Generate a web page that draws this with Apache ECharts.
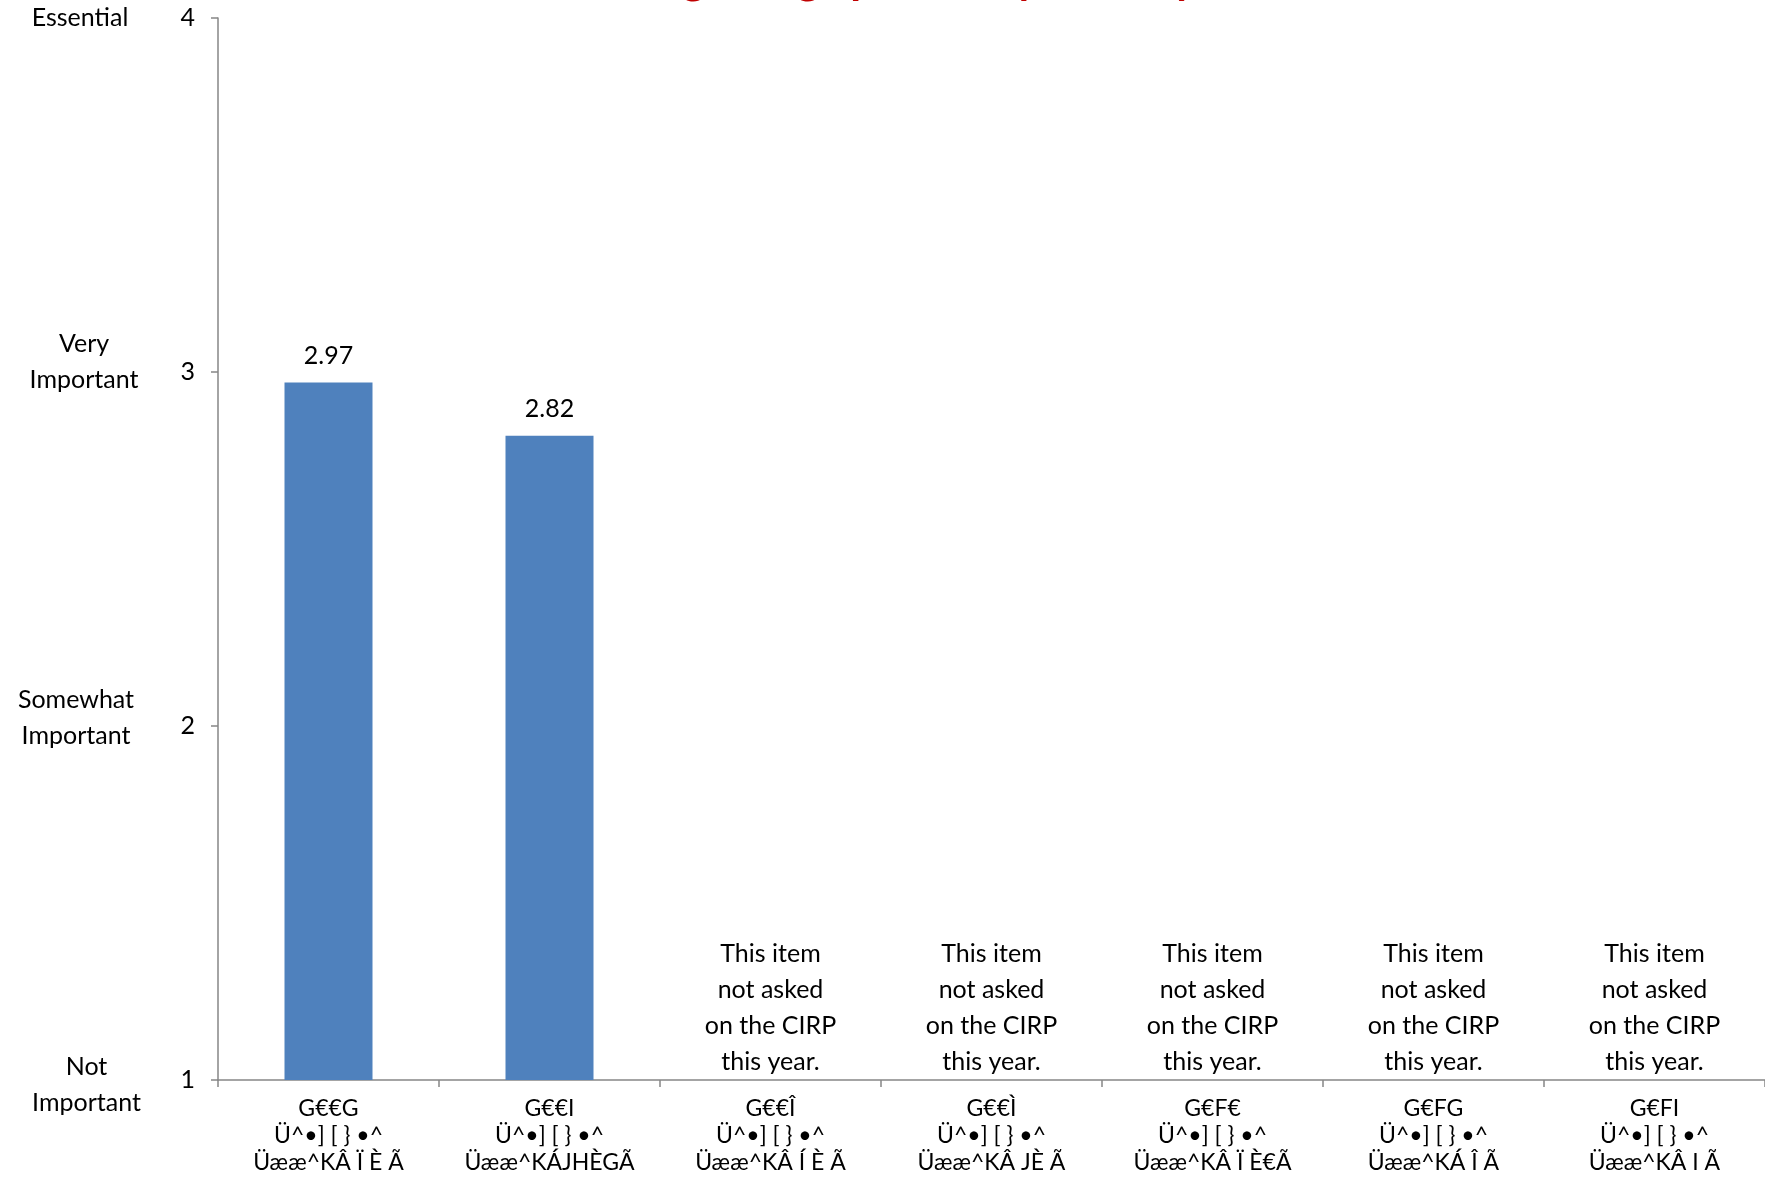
<!DOCTYPE html>
<html>
<head>
<meta charset="utf-8">
<script src="https://cdn.jsdelivr.net/npm/echarts@6/dist/echarts.min.js"></script>
<style>
html,body{margin:0;padding:0;background:#fff;}
#chart{width:1765px;height:1178px;}
</style>
</head>
<body>
<div id="chart"></div>
<script>
// ---- data ----
const titleText = 'Integrating spirituality into my life';
const categories = [
  'G€€G\nÜ^•] [ } •^\nÜææ^KÂ Ï È Ã',
  'G€€I\nÜ^•] [ } •^\nÜææ^KÁJHÈGÃ',
  'G€€Î\nÜ^•] [ } •^\nÜææ^KÂ Í È Ã',
  'G€€Ì\nÜ^•] [ } •^\nÜææ^KÂ JÈ Ã',
  'G€F€\nÜ^•] [ } •^\nÜææ^KÂ Ï È€Ã',
  'G€FG\nÜ^•] [ } •^\nÜææ^KÁ Î Ã',
  'G€FI\nÜ^•] [ } •^\nÜææ^KÂ I Ã'
];
const meanValues = [2.97, 2.82, null, null, null, null, null];
const notAskedAnchor = [null, null, 1, 1, 1, 1, 1];
const notAskedText = 'This item\nnot asked\non the CIRP\nthis year.';
const yTicks = [1, 2, 3, 4];
const yTickNames = ['Not\nImportant', 'Somewhat\nImportant', 'Very\nImportant', 'Essential'];

const FONT = 'Lato';
const chart = echarts.init(document.getElementById('chart'), null, {renderer: 'canvas'});
const axisGrey = '#868686';

// small placement nudges for the level names (style only)
const nameNudge = [{dx: 4.5, dy: 4.5}, {dx: -6, dy: -8}, {dx: 2, dy: -10}, {dx: -2, dy: 0}];
const nameRich = {};
nameNudge.forEach((n, i) => {
  const top = n.dy > 0 ? 2 * n.dy : 0;
  const bottom = n.dy < 0 ? -2 * n.dy : 0;
  const left = n.dx > 0 ? 2 * n.dx : 0;
  const right = n.dx < 0 ? -2 * n.dx : 0;
  nameRich['n' + i] = {
    fontFamily: FONT, fontSize: 25, lineHeight: 36, color: '#000',
    padding: [top, right, bottom, left]
  };
});

chart.setOption({
  animation: false,
  backgroundColor: '#ffffff',
  title: {
    text: titleText,
    left: 932,
    top: -47,
    textAlign: 'center',
    textStyle: {color: '#C00000', fontFamily: FONT, fontWeight: 'bold', fontSize: 44}
  },
  grid: {left: 218, right: 0, top: 18, bottom: 98, containLabel: false},
  xAxis: {
    type: 'category',
    data: categories,
    axisLine: {show: true, lineStyle: {color: axisGrey, width: 1.5}},
    axisTick: {show: true, alignWithLabel: false, length: 7, lineStyle: {color: axisGrey, width: 1.5}},
    axisLabel: {
      interval: 0, margin: 15, color: '#000', fontFamily: FONT, fontSize: 23, lineHeight: 27
    },
    splitLine: {show: false}
  },
  yAxis: [
    {
      type: 'value', min: 1, max: 4, interval: 1,
      axisLine: {show: true, lineStyle: {color: axisGrey, width: 1.5}},
      axisTick: {show: true, length: 7, lineStyle: {color: axisGrey, width: 1.5}},
      axisLabel: {margin: 23, color: '#000', fontFamily: FONT, fontSize: 25},
      splitLine: {show: false}
    },
    {
      type: 'value', min: 1, max: 4, interval: 1, position: 'left',
      axisLine: {show: false}, axisTick: {show: false}, splitLine: {show: false},
      axisLabel: {
        margin: 136, align: 'center', color: '#000', fontFamily: FONT, fontSize: 25, lineHeight: 36,
        rich: nameRich,
        formatter: v => {
          const i = yTicks.indexOf(v);
          if (i < 0) return '';
          return yTickNames[i].split('\n').map(l => '{n' + i + '|' + l + '}').join('\n');
        }
      }
    }
  ],
  series: [
    {
      type: 'bar',
      data: meanValues,
      barWidth: 88,
      itemStyle: {color: '#4F81BD'},
      label: {
        show: true, position: 'top', distance: 14, color: '#000', fontFamily: FONT, fontSize: 25,
        formatter: p => p.value == null ? '' : p.value.toFixed(2)
      }
    },
    {
      type: 'bar',
      data: notAskedAnchor,
      barWidth: 88,
      barGap: '-100%',
      itemStyle: {color: 'rgba(0,0,0,0)'},
      label: {
        show: true, position: 'top', distance: 0, color: '#000', fontFamily: FONT, fontSize: 25,
        lineHeight: 36, align: 'center',
        formatter: p => p.value == null ? '' : notAskedText
      }
    }
  ]
});
</script>
</body>
</html>
